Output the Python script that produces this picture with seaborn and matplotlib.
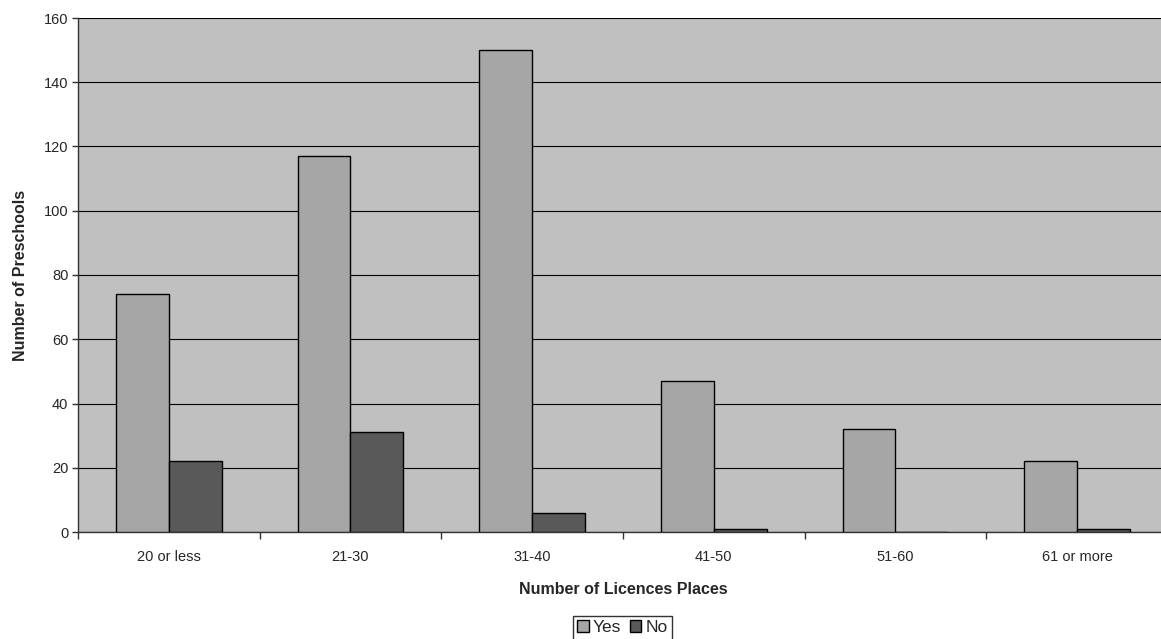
import matplotlib
matplotlib.use("Agg")
import matplotlib.pyplot as plt
import seaborn as sns
import pandas as pd
from matplotlib.patches import Patch

categories = ["20 or less", "21-30", "31-40", "41-50", "51-60", "61 or more"]
yes_values = [74, 117, 150, 47, 32, 22]
no_values = [22, 31, 6, 1, 0, 1]
series_names = ["Yes", "No"]
y_ticks = [0, 20, 40, 60, 80, 100, 120, 140, 160]

df = pd.DataFrame({
    "cat": categories * 2,
    "val": yes_values + no_values,
    "series": [series_names[0]] * len(categories) + [series_names[1]] * len(categories),
})

sns.set_theme(style="white")
plt.rcParams["font.family"] = ["Liberation Sans", "DejaVu Sans"]

W, H = 1161, 639
fig = plt.figure(figsize=(W / 100, H / 100), dpi=100)
left, right, top, bottom = 78, 1168, 18, 532
ax = fig.add_axes([left / W, (H - bottom) / H, (right - left) / W, (bottom - top) / H])

yes_c, no_c, bg = "#A6A6A6", "#595959", "#C0C0C0"
ax.set_facecolor(bg)
sns.barplot(data=df, x="cat", y="val", hue="series", palette=[yes_c, no_c],
            width=0.58, edgecolor="black", linewidth=1.0, ax=ax, legend=False,
            zorder=3)

ax.set_ylim(0, 160)
ax.set_xlim(-0.5, len(categories) - 0.5)
ax.set_yticks(y_ticks)
ax.yaxis.grid(True, color="black", linewidth=0.8, zorder=0)
ax.set_axisbelow(True)
for s in ["top", "right"]:
    ax.spines[s].set_visible(False)
for s in ["left", "bottom"]:
    ax.spines[s].set_color("#333333")
    ax.spines[s].set_linewidth(1.0)

# tick marks at category boundaries, labels at centers
ax.set_xticks([i - 0.5 for i in range(len(categories) + 1)])
ax.set_xticklabels([])
ax.set_xticks(range(len(categories)), minor=True)
ax.set_xticklabels(categories, minor=True, fontsize=10.5)
ax.tick_params(axis="x", which="major", length=5, width=1, color="#333333", direction="out", bottom=True)
ax.tick_params(axis="x", which="minor", length=0, pad=13)
ax.tick_params(axis="y", length=4, width=1, color="#333333", direction="out", left=True, labelsize=10.5, pad=3)

ax.set_xlabel("Number of Licences Places", fontsize=11.5, fontweight="bold", labelpad=13)
ax.set_ylabel("Number of Preschools", fontsize=11.5, fontweight="bold", labelpad=11)

handles = [Patch(facecolor=yes_c, edgecolor="black", linewidth=1.0, label="Yes"),
           Patch(facecolor=no_c, edgecolor="black", linewidth=1.0, label="No")]
leg = fig.legend(handles=handles, loc="upper left", bbox_to_anchor=(573 / W, (H - 616) / H),
                 ncol=2, frameon=True, fancybox=False, fontsize=12.5,
                 handlelength=0.65, handleheight=0.65, handletextpad=0.25, columnspacing=0.5,
                 borderpad=0.25, borderaxespad=0)
leg.get_frame().set_edgecolor("black")
leg.get_frame().set_linewidth(1.0)

fig.savefig("out.png", dpi=100)
